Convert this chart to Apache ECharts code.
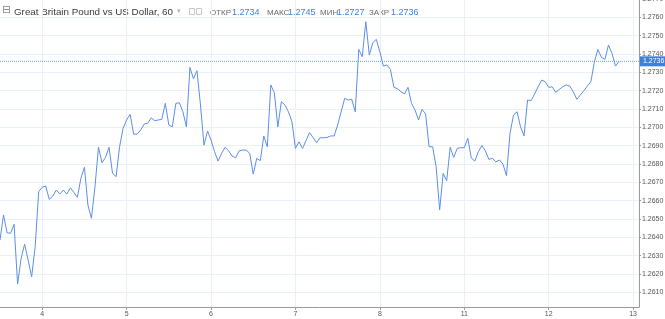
<!DOCTYPE html>
<html>
<head>
<meta charset="utf-8">
<script src="https://cdn.jsdelivr.net/npm/echarts@6/dist/echarts.min.js"></script>
<style>
html,body{margin:0;padding:0;background:#fff;}
#chart{width:665px;height:319px;}
</style>
</head>
<body>
<div id="chart"></div>
<script>
// Hourly closes of GBP/USD, first value at 12:00 of the day before "4"
var startHour = -12;
var closes = [
1.26385,1.26522,1.26425,1.26422,1.26471,1.26145,1.26285,1.26363,1.26276,1.26185,
1.26349,1.26649,1.26673,1.26680,1.26607,1.26625,1.26658,1.26636,1.26658,1.26636,
1.26670,1.26645,1.26618,1.26722,1.26782,1.26576,1.26504,1.26676,1.26891,1.26807,
1.26836,1.26891,1.26749,1.26731,1.26894,1.26995,1.27040,1.27071,1.26963,1.26963,
1.26985,1.27018,1.27022,1.27052,1.27036,1.27040,1.27044,1.27131,1.27013,1.27003,
1.27131,1.27134,1.27085,1.27003,1.27327,1.27265,1.27309,1.27122,1.26903,1.26980,
1.26931,1.26867,1.26816,1.26858,1.26891,1.26872,1.26843,1.26834,1.26872,1.26876,
1.26876,1.26858,1.26745,1.26831,1.26818,1.26953,1.26894,1.27231,1.27189,1.27003,
1.27140,1.27122,1.27085,1.27031,1.26885,1.26921,1.26885,1.26927,1.26971,1.26945,
1.26916,1.26943,1.26943,1.26945,1.26953,1.26953,1.27013,1.27085,1.27158,1.27149,
1.27153,1.27085,1.27425,1.27385,1.27576,1.27394,1.27461,1.27480,1.27412,1.27334,
1.27340,1.27316,1.27218,1.27211,1.27194,1.27182,1.27218,1.27131,1.27094,1.27040,
1.27098,1.27073,1.26894,1.26894,1.26785,1.26549,1.26749,1.26709,1.26891,1.26836,
1.26885,1.26889,1.26889,1.26940,1.26833,1.26816,1.26867,1.26900,1.26872,1.26825,
1.26831,1.26812,1.26822,1.26800,1.26736,1.26967,1.27067,1.27085,1.27003,1.26953,
1.27149,1.27145,1.27182,1.27221,1.27258,1.27249,1.27218,1.27221,1.27191,1.27207,
1.27221,1.27231,1.27225,1.27194,1.27153,1.27176,1.27200,1.27225,1.27249,1.27358,
1.27425,1.27382,1.27371,1.27449,1.27404,1.27334,1.27360
];
var dayLabels = ['4','5','6','7','8','11','12','13'];
var priceTicks = [1.2610,1.2620,1.2630,1.2640,1.2650,1.2660,1.2670,1.2680,1.2690,1.2700,
                  1.2710,1.2720,1.2730,1.2740,1.2750,1.2760,1.2770];
var lastPrice = 1.2736;
var headerTitle = 'Great Britain Pound vs US Dollar, 60';
var ohlcNames = ['ОТКР','МАКС','МИН','ЗАКР'];
var ohlcValues = ['1.2734','1.2745','1.2727','1.2736'];

var X_MIN = -0.5, X_MAX = 7.07;
var dayPositions = dayLabels.map(function(_, i){ return i; });
var lineData = closes.map(function(v, i){ return [(startHour + i) / 24, v]; });
var lastLineData = [[X_MIN, lastPrice], [X_MAX, lastPrice]];

var chart = echarts.init(document.getElementById('chart'), null, {renderer:'canvas'});
var FONT = '"Liberation Sans", Arial, sans-serif';
var blue = '#3f7fe0';
var dotColor = '#6e9ff0';

var graphics = [
  {type:'text', left:2, top:5, style:{text:'⊟', fill:'#8a8a8a', font:'11px "DejaVu Sans"'}},
  {type:'text', left:14, top:7, style:{text:headerTitle, fill:'#3a3a3a', font:'9.8px ' + FONT}},
  {type:'text', left:177, top:8, style:{text:'▾', fill:'#b0b0b0', font:'7px "DejaVu Sans"'}},
  {type:'rect', shape:{x:189.5, y:8.5, width:5, height:6}, style:{fill:'#fff', stroke:'#c8c8c8', lineWidth:1}},
  {type:'rect', shape:{x:196.5, y:8.5, width:5, height:6}, style:{fill:'#fff', stroke:'#c8c8c8', lineWidth:1}}
];
var xs = [210, 267, 320, 369];
var vx = [232, 288, 337, 391];
ohlcNames.forEach(function(n, i){
  graphics.push({type:'text', left:xs[i], top:8.5, style:{text:n, fill:'#6a6a6a', font:'8px ' + FONT}});
  graphics.push({type:'text', left:vx[i], top:8, style:{text:ohlcValues[i], fill:blue, font:'9px ' + FONT}});
});

chart.setOption({
  animation:false,
  grid:{left:0, right:26, top:-1, bottom:12, containLabel:false, outerBoundsMode:'none'},
  graphic:graphics,
  xAxis:{
    type:'value', min:X_MIN, max:X_MAX,
    axisLine:{show:true, onZero:false, lineStyle:{color:'#9a9a9a', width:1}},
    axisTick:{show:true, length:3, customValues:dayPositions, lineStyle:{color:'#9a9a9a'}},
    axisLabel:{customValues:dayPositions, fontSize:7, color:'#555', margin:4, fontFamily:FONT,
      formatter:function(v){ var i = Math.round(v); return dayLabels[i] || ''; }},
    splitLine:{show:true, lineStyle:{color:'#eaf0f8', width:1}}
  },
  yAxis:{
    type:'value', position:'right', min:1.2602, max:1.2770, scale:true,
    axisLine:{show:true, onZero:false, lineStyle:{color:'#9a9a9a', width:1}},
    axisTick:{show:true, length:2, customValues:priceTicks, lineStyle:{color:'#9a9a9a'}},
    axisLabel:{customValues:priceTicks, fontSize:7, color:'#555', margin:3, fontFamily:FONT,
      formatter:function(v){ return v.toFixed(4); }},
    splitLine:{show:true, lineStyle:{color:'#eaf0f8', width:1}}
  },
  series:[{
    type:'line', data:lastLineData, showSymbol:false, symbol:'none', silent:true,
    color:dotColor,
    lineStyle:{color:dotColor, type:[1,1], width:1},
    endLabel:{show:true, distance:1, formatter:function(){ return lastPrice.toFixed(4); },
      color:'#fff', backgroundColor:'#3f7fe0', fontSize:7, fontFamily:FONT, padding:[2,3,1,3]}
  },{
    type:'line', data:lineData, showSymbol:false, symbol:'none',
    color:'#5b8fe8',
    lineStyle:{color:'#5b8fe8', width:1}
  }]
});
</script>
</body>
</html>
